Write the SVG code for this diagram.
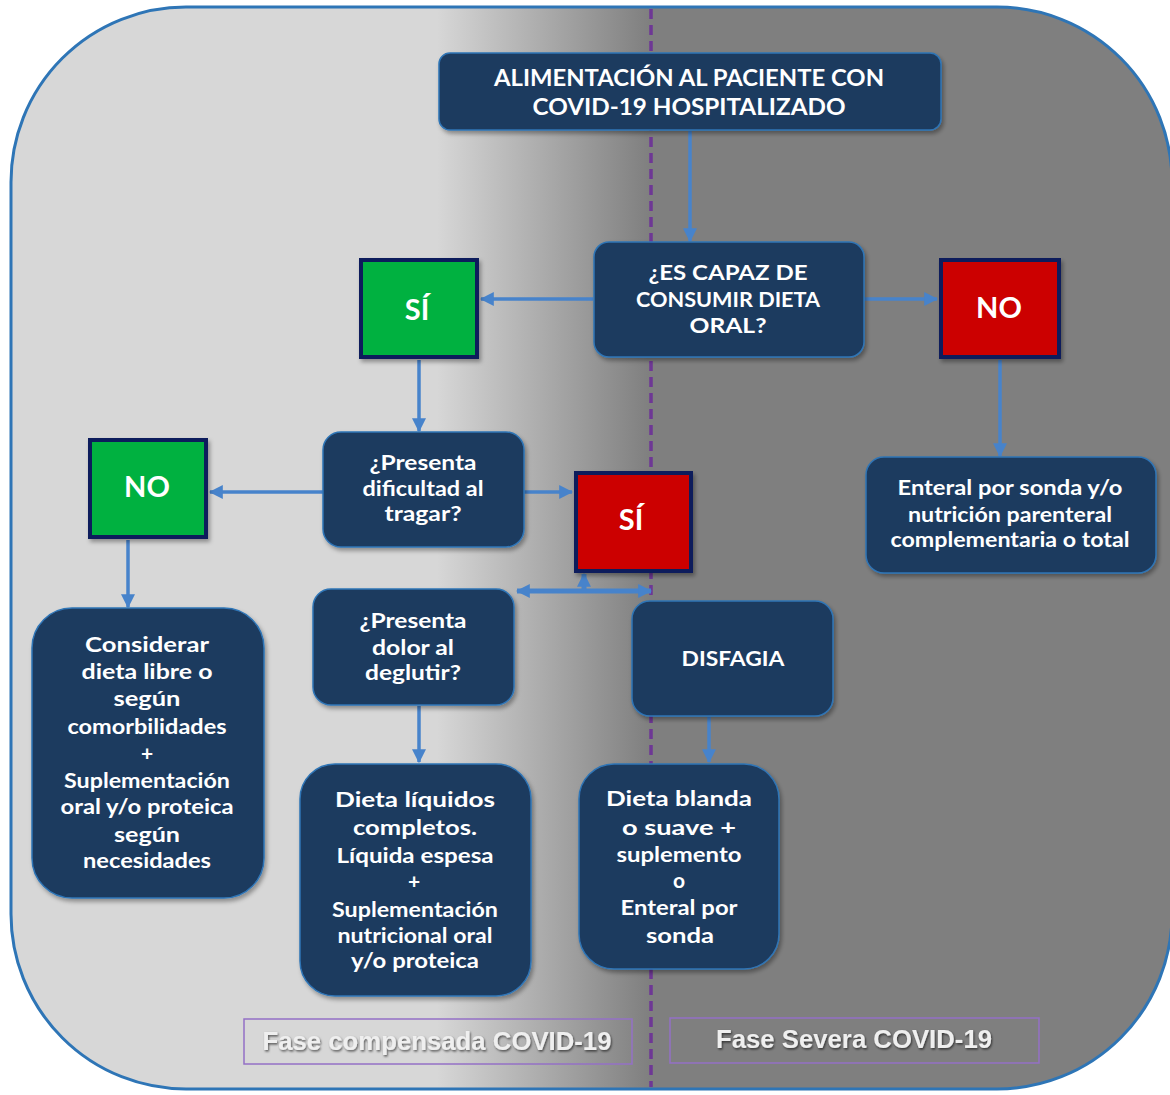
<svg xmlns="http://www.w3.org/2000/svg" width="1170" height="1095" viewBox="0 0 1170 1095">
<defs>
<linearGradient id="bg" gradientUnits="userSpaceOnUse" x1="437" y1="0" x2="650" y2="0">
<stop offset="0" stop-color="#d7d7d7"/>
<stop offset="1" stop-color="#7f7f7f"/>
</linearGradient>
<filter id="sh" x="-10%" y="-10%" width="125%" height="125%">
<feDropShadow dx="2" dy="3" stdDeviation="2" flood-color="#000" flood-opacity="0.35"/>
</filter>
<filter id="tsh" x="-5%" y="-20%" width="110%" height="150%">
<feDropShadow dx="1" dy="1.5" stdDeviation="1" flood-color="#000" flood-opacity="0.6"/>
</filter>
<marker id="ah" markerUnits="userSpaceOnUse" markerWidth="14" markerHeight="14" viewBox="0 0 12 12" refX="11" refY="6" orient="auto">
<path d="M0,0 L12,6 L0,12 Z" fill="#4783cb"/>
</marker>
<marker id="ahs" markerUnits="userSpaceOnUse" markerWidth="14" markerHeight="14" viewBox="0 0 12 12" refX="11" refY="6" orient="auto-start-reverse">
<path d="M0,0 L12,6 L0,12 Z" fill="#4783cb"/>
</marker>
</defs>
<style>
.box{fill:#1e3a5f;stroke:#2e75b6;stroke-width:1.5;filter:url(#sh)}
.sq{stroke:#0c1b5c;stroke-width:4;filter:url(#sh)}
.g{fill:#00b140}
.r{fill:#cc0000}
.t{font-family:Lato,"Liberation Sans",sans-serif;font-weight:700;fill:#ffffff;text-anchor:middle;font-size:21px}
.big{font-size:29px}
.conn line{stroke:#4783cb;stroke-width:3.5;fill:none}
.fase{fill:none;stroke:#9470c6;stroke-width:1.5}
.ft{font-family:"Liberation Sans",Arial,sans-serif;font-weight:700;font-size:25px;fill:#efefef;text-anchor:middle;filter:url(#tsh)}
</style>
<g id="background">
<rect x="11" y="7" width="1161" height="1082" rx="175" ry="175" fill="url(#bg)" stroke="#2e75b6" stroke-width="3"/>
<line x1="651" y1="9" x2="651" y2="1087" stroke="#6e3795" stroke-width="3.5" stroke-dasharray="10,6"/>
</g>
<g id="conn" class="conn">
<line x1="690" y1="131" x2="690" y2="241" marker-end="url(#ah)"/>
<line x1="593" y1="299" x2="481" y2="299" marker-end="url(#ah)"/>
<line x1="864" y1="299" x2="937" y2="299" marker-end="url(#ah)"/>
<line x1="419" y1="360" x2="419" y2="431" marker-end="url(#ah)"/>
<line x1="1000" y1="360" x2="1000" y2="456" marker-end="url(#ah)"/>
<line x1="323" y1="492" x2="210" y2="492" marker-end="url(#ah)"/>
<line x1="524" y1="492" x2="572" y2="492" marker-end="url(#ah)"/>
<line x1="128" y1="540" x2="128" y2="607" marker-end="url(#ah)"/>
<line x1="517" y1="591" x2="651" y2="591" style="stroke-width:5" marker-start="url(#ahs)" marker-end="url(#ah)"/>
<line x1="584" y1="591" x2="584" y2="574" style="stroke-width:5" marker-end="url(#ah)"/>
<line x1="419" y1="706" x2="419" y2="762" marker-end="url(#ah)"/>
<line x1="709" y1="717" x2="709" y2="762" marker-end="url(#ah)"/>
</g>
<g id="n-title">
<rect class="box" x="439" y="53" width="502" height="77" rx="11"/>
<text class="t" font-size="23" x="689" y="86" textLength="390" lengthAdjust="spacingAndGlyphs" style="font-size:23px">ALIMENTACIÓN AL PACIENTE CON</text>
<text class="t" x="689" y="115" textLength="313" lengthAdjust="spacingAndGlyphs" style="font-size:23px">COVID-19 HOSPITALIZADO</text>
</g>
<g id="n-capaz">
<rect class="box" x="594" y="242" width="270" height="115" rx="15"/>
<text class="t" x="728" y="280" textLength="159" lengthAdjust="spacingAndGlyphs">¿ES CAPAZ DE</text>
<text class="t" x="728" y="307" textLength="184" lengthAdjust="spacingAndGlyphs">CONSUMIR DIETA</text>
<text class="t" x="728" y="333" textLength="77" lengthAdjust="spacingAndGlyphs">ORAL?</text>
</g>
<g id="n-si1">
<rect class="sq g" x="361" y="260" width="116" height="97"/>
<text class="t big" x="417" y="320">SÍ</text>
</g>
<g id="n-no1">
<rect class="sq r" x="941" y="260" width="118" height="97"/>
<text class="t big" x="999" y="318">NO</text>
</g>
<g id="n-dificultad">
<rect class="box" x="323" y="432" width="201" height="115" rx="18"/>
<text class="t" x="423" y="470" textLength="107" lengthAdjust="spacingAndGlyphs">¿Presenta</text>
<text class="t" x="423" y="496" textLength="121" lengthAdjust="spacingAndGlyphs">dificultad al</text>
<text class="t" x="423" y="521" textLength="77" lengthAdjust="spacingAndGlyphs">tragar?</text>
</g>
<g id="n-no2">
<rect class="sq g" x="90" y="440" width="116" height="97"/>
<text class="t big" x="147" y="497">NO</text>
</g>
<g id="n-si2">
<rect class="sq r" x="576" y="473" width="115" height="98"/>
<text class="t big" x="631" y="530">SÍ</text>
</g>
<g id="n-enteral">
<rect class="box" x="866" y="457" width="290" height="116" rx="18"/>
<text class="t" x="1010" y="495" textLength="225" lengthAdjust="spacingAndGlyphs">Enteral por sonda y/o</text>
<text class="t" x="1010" y="522" textLength="204" lengthAdjust="spacingAndGlyphs">nutrición parenteral</text>
<text class="t" x="1010" y="547" textLength="239" lengthAdjust="spacingAndGlyphs">complementaria o total</text>
</g>
<g id="n-considerar">
<rect class="box" x="32" y="608" width="232" height="290" rx="40"/>
<text class="t" x="147" y="652" textLength="124" lengthAdjust="spacingAndGlyphs">Considerar</text>
<text class="t" x="147" y="679" textLength="131" lengthAdjust="spacingAndGlyphs">dieta libre o</text>
<text class="t" x="147" y="706" textLength="67" lengthAdjust="spacingAndGlyphs">según</text>
<text class="t" x="147" y="734" textLength="159" lengthAdjust="spacingAndGlyphs">comorbilidades</text>
<text class="t" x="147" y="761">+</text>
<text class="t" x="147" y="788" textLength="166" lengthAdjust="spacingAndGlyphs">Suplementación</text>
<text class="t" x="147" y="814" textLength="173" lengthAdjust="spacingAndGlyphs">oral y/o proteica</text>
<text class="t" x="147" y="842" textLength="66" lengthAdjust="spacingAndGlyphs">según</text>
<text class="t" x="147" y="868" textLength="128" lengthAdjust="spacingAndGlyphs">necesidades</text>
</g>
<g id="n-dolor">
<rect class="box" x="313" y="589" width="201" height="116" rx="18"/>
<text class="t" x="413" y="628" textLength="107" lengthAdjust="spacingAndGlyphs">¿Presenta</text>
<text class="t" x="413" y="655" textLength="82" lengthAdjust="spacingAndGlyphs">dolor al</text>
<text class="t" x="413" y="680" textLength="96" lengthAdjust="spacingAndGlyphs">deglutir?</text>
</g>
<g id="n-disfagia">
<rect class="box" x="632" y="601" width="201" height="115" rx="18"/>
<text class="t" x="733" y="666" textLength="103" lengthAdjust="spacingAndGlyphs">DISFAGIA</text>
</g>
<g id="n-liquidos">
<rect class="box" x="300" y="764" width="231" height="232" rx="35"/>
<text class="t" x="415" y="807" textLength="160" lengthAdjust="spacingAndGlyphs">Dieta líquidos</text>
<text class="t" x="415" y="835" textLength="124" lengthAdjust="spacingAndGlyphs">completos.</text>
<text class="t" x="415" y="863" textLength="157" lengthAdjust="spacingAndGlyphs">Líquida espesa</text>
<text class="t" x="414" y="889">+</text>
<text class="t" x="415" y="917" textLength="166" lengthAdjust="spacingAndGlyphs">Suplementación</text>
<text class="t" x="415" y="943" textLength="155" lengthAdjust="spacingAndGlyphs">nutricional oral</text>
<text class="t" x="415" y="968" textLength="128" lengthAdjust="spacingAndGlyphs">y/o proteica</text>
</g>
<g id="n-blanda">
<rect class="box" x="579" y="764" width="200" height="205" rx="35"/>
<text class="t" x="679" y="806" textLength="146" lengthAdjust="spacingAndGlyphs">Dieta blanda</text>
<text class="t" x="679" y="835" textLength="114" lengthAdjust="spacingAndGlyphs">o suave +</text>
<text class="t" x="679" y="862" textLength="125" lengthAdjust="spacingAndGlyphs">suplemento</text>
<text class="t" x="679" y="888">o</text>
<text class="t" x="679" y="915" textLength="117" lengthAdjust="spacingAndGlyphs">Enteral por</text>
<text class="t" x="680" y="943" textLength="68" lengthAdjust="spacingAndGlyphs">sonda</text>
</g>
<g id="label-compensada">
<rect class="fase" x="244" y="1019" width="388" height="45"/>
<text class="ft" x="437" y="1050" textLength="349" lengthAdjust="spacingAndGlyphs">Fase compensada COVID-19</text>
</g>
<g id="label-severa">
<rect class="fase" x="670" y="1018" width="369" height="45"/>
<text class="ft" x="854" y="1048" textLength="276" lengthAdjust="spacingAndGlyphs">Fase Severa COVID-19</text>
</g>
</svg>
